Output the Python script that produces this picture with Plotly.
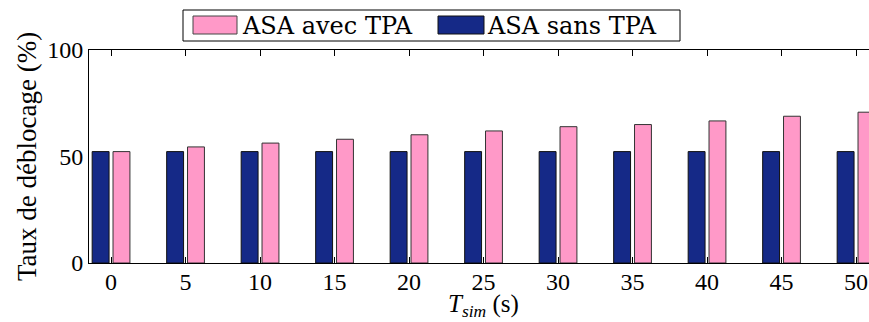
import plotly.graph_objects as go

t_sim = [0, 5, 10, 15, 20, 25, 30, 35, 40, 45, 50]
asa_avec_tpa = [52.3, 54.5, 56.3, 58.1, 60.2, 62.0, 64.0, 65.0, 66.7, 68.9, 70.8]
asa_sans_tpa = [52.3] * 11
y_ticks = [0, 50, 100]

FONT = "Liberation Serif"
LEGEND_FONT = "DejaVu Serif"
PINK = "#FF99C8"
BLUE = "#152987"

W, H = 869, 322
ML, MR, MT, MB = 89, 0, 50, 59
PW, PH = W - ML - MR, H - MT - MB


def px(x):
    return (x - ML) / PW


def py(y):
    return (H - MB - y) / PH


fig = go.Figure()
fig.add_trace(go.Bar(
    x=t_sim, y=asa_sans_tpa, name="ASA sans TPA",
    marker=dict(color=BLUE, line=dict(color="#111111", width=1)),
))
fig.add_trace(go.Bar(
    x=t_sim, y=asa_avec_tpa, name="ASA avec TPA",
    marker=dict(color=PINK, line=dict(color="#333333", width=1)),
))

# manual legend (wide swatches like the original)
shapes = [
    dict(type="rect", xref="paper", yref="paper", x0=px(183), x1=px(680), y0=py(41), y1=py(10),
         line=dict(color="black", width=1), fillcolor="white", layer="above"),
    dict(type="rect", xref="paper", yref="paper", x0=px(193), x1=px(237), y0=py(34), y1=py(16),
         line=dict(color="#444444", width=1), fillcolor=PINK, layer="above"),
    dict(type="rect", xref="paper", yref="paper", x0=px(438), x1=px(484), y0=py(34), y1=py(16),
         line=dict(color="#111111", width=1), fillcolor=BLUE, layer="above"),
]
annotations = [
    dict(text="ASA avec TPA", xref="paper", yref="paper", x=px(240), y=py(25.5),
         xanchor="left", yanchor="middle", showarrow=False,
         font=dict(family=LEGEND_FONT, size=24, color="black")),
    dict(text="ASA sans TPA", xref="paper", yref="paper", x=px(485), y=py(25.5),
         xanchor="left", yanchor="middle", showarrow=False,
         font=dict(family=LEGEND_FONT, size=24, color="black")),
    # x-axis title
    dict(text="<i>T</i><sub><i>sim</i></sub> (s)", xref="paper", yref="paper",
         x=px(483), y=py(322), xanchor="center", yanchor="bottom", showarrow=False,
         borderpad=0, font=dict(family=FONT, size=25, color="black")),
]

fig.update_layout(
    width=W, height=H,
    margin=dict(l=ML, r=MR, t=MT, b=MB),
    paper_bgcolor="white", plot_bgcolor="white",
    barmode="group", bargap=0.44, bargroupgap=0.19,
    font=dict(family=FONT, size=24, color="black"),
    showlegend=False,
    shapes=shapes, annotations=annotations,
    xaxis=dict(
        range=[-1.48, 50.87], tickvals=t_sim, ticktext=[str(v) for v in t_sim],
        showline=True, linecolor="black", linewidth=1, mirror="ticks",
        ticks="inside", ticklen=6, tickcolor="black", showgrid=False, zeroline=False,
        tickfont=dict(family=FONT, size=24), ticklabelstandoff=-3,
    ),
    yaxis=dict(
        range=[0, 100], tickvals=y_ticks,
        showline=True, linecolor="black", linewidth=1,
        ticks="", showgrid=False, zeroline=False,
        tickfont=dict(family=FONT, size=24),
        title=dict(text="Taux de déblocage (%)", standoff=2,
                   font=dict(family=FONT, size=27)),
    ),
)

fig.write_html("out.html", config={"displayModeBar": False},
               post_script="document.body.style.margin='0px';")
